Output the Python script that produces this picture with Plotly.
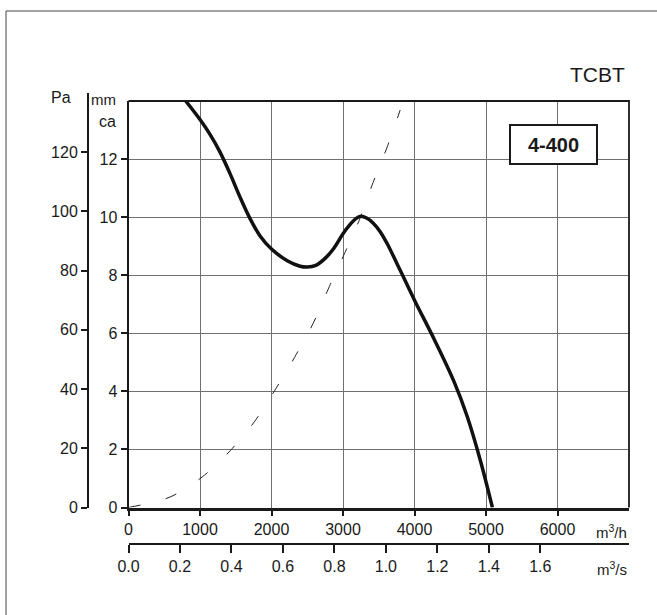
import plotly.graph_objects as go

# Fan curve, model 4-400: airflow (m³/h) against static pressure (mm water column)
flow_m3h = [800, 1000, 1140, 1280, 1420, 1560, 1700, 1840, 2000, 2220, 2400,
            2500, 2620, 2750, 2870, 3000, 3100, 3180, 3250, 3330, 3420, 3520,
            3615, 3800, 4000, 4270, 4550, 4735, 4920, 5090]
pressure_mmca = [14.0, 13.36, 12.85, 12.24, 11.5, 10.69, 9.95, 9.35, 8.9, 8.5, 8.31,
                 8.28, 8.34, 8.58, 8.92, 9.43, 9.75, 9.95, 10.03, 9.97, 9.8, 9.5,
                 9.1, 8.17, 7.14, 5.82, 4.35, 3.15, 1.63, 0.0]

# System resistance curve (dashed)
system_flow_m3h = [0, 580, 1030, 1420, 1760, 2050, 2320, 2580, 2820, 3020, 3230,
                   3420, 3620, 3800]
system_mmca = [0.0, 0.36, 1.05, 1.95, 2.95, 4.05, 5.16, 6.33, 7.67, 8.74, 9.91,
               11.19, 12.43, 13.69]

flow_ticks_m3h = [0, 1000, 2000, 3000, 4000, 5000, 6000]
flow_ticks_m3s = [0.0, 0.2, 0.4, 0.6, 0.8, 1.0, 1.2, 1.4, 1.6]
flow_ticktext_m3s = ["0.0", "0.2", "0.4", "0.6", "0.8", "1.0", "1.2", "1.4", "1.6"]
pressure_ticks_mmca = [0, 2, 4, 6, 8, 10, 12]
pressure_ticks_pa = [0, 20, 40, 60, 80, 100, 120]

FLOW_MAX_M3H = 7000
PRESSURE_MAX_MMCA = 14
PA_PER_MMCA = 9.80665

W, H = 657, 615
ML, MR, MT, MB = 30, 28, 101, 71
PW, PH = W - ML - MR, H - MT - MB


def px_x(px):
    return (px - ML) / PW


def px_y(py):
    return (H - MB - py) / PH


FONT = "Liberation Sans, Arial, Helvetica, sans-serif"
INK = "#1a1a1a"
x_dom = [px_x(128.5), 1]
y_dom = [px_y(507.5), 1]

fig = go.Figure()

fig.add_trace(go.Scatter(
    x=system_flow_m3h, y=system_mmca, mode="lines",
    line=dict(color="#222222", width=1, dash="12px,26px", shape="spline", smoothing=0.8),
    hoverinfo="skip", showlegend=False,
))
fig.add_trace(go.Scatter(
    x=flow_m3h, y=pressure_mmca, mode="lines",
    line=dict(color="#111111", width=3.5, shape="spline", smoothing=1.0),
    showlegend=False,
))
# Secondary scales (m³/s and Pa) share the same plot area
fig.add_trace(go.Scatter(
    x=[v / 3600 for v in flow_m3h], y=[v * PA_PER_MMCA for v in pressure_mmca],
    xaxis="x2", yaxis="y2", mode="lines", line=dict(width=0, color="rgba(0,0,0,0)"),
    hoverinfo="skip", showlegend=False,
))

tick_font = dict(family=FONT, size=16, color=INK)
ytick_font = dict(family=FONT, size=16, color=INK)

fig.update_layout(
    width=W, height=H,
    margin=dict(l=ML, r=MR, t=MT, b=MB, pad=0),
    paper_bgcolor="white", plot_bgcolor="white",
    font=dict(family=FONT, color=INK),
    xaxis=dict(
        domain=x_dom, anchor="y", range=[0, FLOW_MAX_M3H],
        tickmode="array", tickvals=flow_ticks_m3h,
        ticks="outside", ticklen=6, tickwidth=1.5, tickcolor=INK,
        showline=True, linewidth=2.5, linecolor=INK,
        showgrid=True, gridcolor="#707070", gridwidth=1.3, zeroline=False,
        tickfont=tick_font,
    ),
    xaxis2=dict(
        domain=x_dom, overlaying="x", anchor="free", position=0, side="bottom",
        range=[0, FLOW_MAX_M3H / 3600],
        tickmode="array", tickvals=flow_ticks_m3s, ticktext=flow_ticktext_m3s,
        ticks="outside", ticklen=8, tickwidth=1.5, tickcolor=INK,
        showline=True, linewidth=2, linecolor=INK,
        showgrid=False, zeroline=False, tickfont=tick_font,
    ),
    yaxis=dict(
        domain=y_dom, anchor="x", range=[0, PRESSURE_MAX_MMCA],
        tickmode="array", tickvals=pressure_ticks_mmca,
        ticks="outside", ticklen=6, tickwidth=1.5, tickcolor=INK,
        showline=True, linewidth=2, linecolor=INK,
        showgrid=True, gridcolor="#707070", gridwidth=1.3, zeroline=False,
        tickfont=ytick_font,
    ),
    yaxis2=dict(
        domain=y_dom, overlaying="y", anchor="free", position=px_x(88), side="left",
        range=[0, PRESSURE_MAX_MMCA * PA_PER_MMCA],
        tickmode="array", tickvals=pressure_ticks_pa,
        ticks="outside", ticklen=6, tickwidth=1.5, tickcolor=INK,
        showline=True, linewidth=2, linecolor=INK,
        showgrid=False, zeroline=False, tickfont=ytick_font,
    ),
    shapes=[
        # top and right edges of the chart frame
        dict(type="path", xref="x domain", yref="y domain",
             path="M 0 1 L 1 1 L 1 0", line=dict(color=INK, width=1.8)),
        # Pa scale line rises slightly above the frame
        dict(type="line", xref="paper", yref="paper",
             x0=px_x(88), x1=px_x(88), y0=px_y(101), y1=px_y(93),
             line=dict(color=INK, width=2)),
        # outer page border
        dict(type="path", xref="paper", yref="paper",
             path=f"M {px_x(6)} {px_y(H + 20)} L {px_x(6)} {px_y(11)} L {px_x(W + 20)} {px_y(11)}",
             line=dict(color="#444444", width=1)),
    ],
    annotations=[
        dict(text="Pa", x=px_x(61), y=px_y(97.5), xref="paper", yref="paper",
             xanchor="center", yanchor="middle", showarrow=False, font=dict(size=16)),
        dict(text="mm", x=px_x(118), y=px_y(99), xref="paper", yref="paper",
             xanchor="right", yanchor="middle", showarrow=False, font=dict(size=15)),
        dict(text="ca", x=px_x(118), y=px_y(121), xref="paper", yref="paper",
             xanchor="right", yanchor="middle", showarrow=False, font=dict(size=16)),
        dict(text="TCBT", x=px_x(627), y=px_y(74), xref="paper", yref="paper",
             xanchor="right", yanchor="middle", showarrow=False, font=dict(size=21)),
        dict(text="m<sup>3</sup>/h", x=px_x(629), y=px_y(531), xref="paper", yref="paper",
             xanchor="right", yanchor="middle", showarrow=False, font=dict(size=15)),
        dict(text="m<sup>3</sup>/s", x=px_x(629), y=px_y(568), xref="paper", yref="paper",
             xanchor="right", yanchor="middle", showarrow=False, font=dict(size=15)),
        dict(text="<b>4-400</b>", x=px_x(553.5), y=px_y(144.5), xref="paper", yref="paper",
             xanchor="center", yanchor="middle", showarrow=False,
             font=dict(size=20, color=INK), bgcolor="white",
             bordercolor=INK, borderwidth=2, borderpad=1, width=83, height=35),
    ],
)

fig.write_html("out.html")
